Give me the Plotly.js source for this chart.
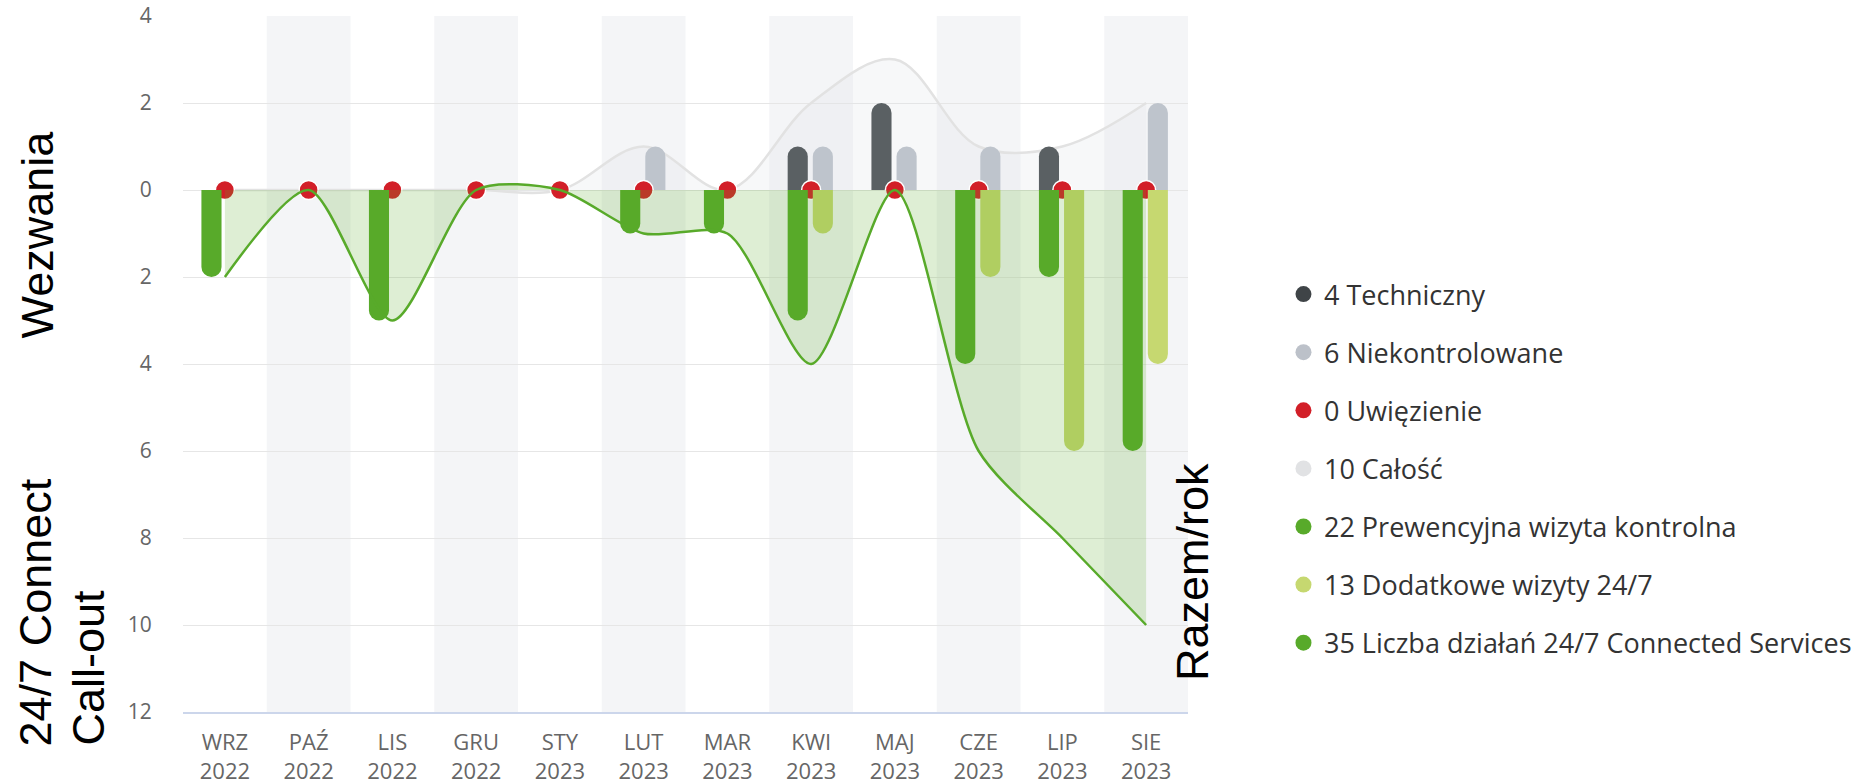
<!DOCTYPE html>
<html><head><meta charset="utf-8">
<script src="https://cdn.plot.ly/plotly-3.0.1.min.js"></script>
<style>html,body{margin:0;padding:0;background:#fff;} #chart{width:1874px;height:784px;}</style>
</head><body><div id="chart"></div>
<script>
// ---- data ----
const months = ['WRZ','PAŹ','LIS','GRU','STY','LUT','MAR','KWI','MAJ','CZE','LIP','SIE'];
const years  = ['2022','2022','2022','2022','2023','2023','2023','2023','2023','2023','2023','2023'];
const techniczny      = [0,0,0,0,0,0,0,1,2,0,1,0];
const niekontrolowane = [0,0,0,0,0,1,0,1,1,1,0,2];
const uwiezienie      = [0,0,0,0,0,0,0,0,0,0,0,0];
const calosc          = [0,0,0,0,0,1,0,2,3,1,1,2];
const prewencyjna     = [2,0,3,0,0,1,1,3,0,4,2,6];
const dodatkowe       = [0,0,0,0,0,0,0,1,0,2,6,4];
const liczba          = [2,0,3,0,0,1,1,4,0,6,8,10];
const seriesNames = ['Techniczny','Niekontrolowane','Uwięzienie','Całość','Prewencyjna wizyta kontrolna','Dodatkowe wizyty 24/7','Liczba działań 24/7 Connected Services'];
const yTickVals = [4,2,0,-2,-4,-6,-8,-10,-12];

// ---- styling ----
const colors = {
  tech:'#5a6063', techLeg:'#3f4447',
  niek:'#bec4cc', niekLeg:'#bcc1c9',
  uwi:'#d21f28',
  cal:'#e2e2e2', calLeg:'#e1e2e4',
  prew:'#58aa2a', dod:'#c6d870', licz:'#58aa2a'
};
const cats = months.map((m,i)=>m+'<br>'+years[i]);
const neg = a => a.map(v=>-v);
const sum = a => a.reduce((s,v)=>s+v,0);
const LEFT = -0.28, RIGHT = 0.02, BW = 0.24;

function bar(y, color, offset, yaxis){
  return {type:'bar', x:cats, y:y, offset:offset, width:BW, yaxis:yaxis, xaxis:'x',
    marker:{color:color, cornerradius:'50%', line:{width:0}}, showlegend:false, hoverinfo:'skip'};
}

// layer order (bottom -> top): y: Całość area, y2: gray bars, y3: dots, y4: green bars, y5: green area
const traces = [
  {type:'scatter', mode:'lines', x:cats, y:calosc, xaxis:'x', yaxis:'y', showlegend:false, hoverinfo:'skip',
   line:{shape:'spline', smoothing:1, color:colors.cal, width:2.5}, fill:'tozeroy', fillcolor:'rgba(225,228,230,0.25)'},
  bar(techniczny, colors.tech, LEFT, 'y2'),
  bar(niekontrolowane, colors.niek, RIGHT, 'y2'),
  {type:'scatter', mode:'markers', x:cats, y:uwiezienie, xaxis:'x', yaxis:'y3', showlegend:false, hoverinfo:'skip',
   marker:{size:19, color:colors.uwi, line:{color:'#fff', width:1.5}}},
  bar(neg(prewencyjna), colors.prew, LEFT, 'y4'),
  bar(neg(dodatkowe), colors.dod, RIGHT, 'y4'),
  {type:'scatter', mode:'lines', x:cats, y:neg(liczba), xaxis:'x', yaxis:'y5', showlegend:false, hoverinfo:'skip',
   line:{shape:'spline', smoothing:0.75, color:colors.licz, width:2.5}, fill:'tozeroy', fillcolor:'rgba(88,170,42,0.2)'}
];

// legend entries (circle symbols)
const legendData = [techniczny, niekontrolowane, uwiezienie, calosc, prewencyjna, dodatkowe, liczba];
const legendColors = [colors.techLeg, colors.niekLeg, colors.uwi, colors.calLeg, colors.prew, colors.dod, colors.licz];
legendData.forEach((d,i)=>{
  traces.push({type:'scatter', mode:'markers', x:[null], y:[null], xaxis:'x', yaxis:'y',
    name: sum(d)+' '+seriesNames[i], legendgroup:'g'+i, showlegend:true,
    marker:{size:16, color:legendColors[i], symbol:'circle'}});
});

// alternating bands
const shapes = [];
months.forEach((m,i)=>{
  if(i%2===1) shapes.push({type:'rect', xref:'x', yref:'paper', x0:i-0.5, x1:i+0.5, y0:0, y1:1,
    fillcolor:'#f4f5f7', line:{width:0}, layer:'below'});
});

const yRange = [-12,4];
const hiddenY = () => ({overlaying:'y', range:yRange, visible:false, fixedrange:true});
const titleFont = {family:'Liberation Sans, Arial, sans-serif', size:45, color:'#000'};

const layout = {
  width:1874, height:784,
  margin:{l:183, r:686, t:16, b:72},
  paper_bgcolor:'#fff', plot_bgcolor:'#fff',
  barmode:'overlay',
  showlegend:true,
  xaxis:{type:'category', range:[-0.5,11.5], showgrid:false, zeroline:false,
    showline:true, linecolor:'#ccd6eb', linewidth:2,
    ticks:'outside', ticklen:10, tickcolor:'rgba(0,0,0,0)',
    tickfont:{family:'Open Sans, sans-serif', size:22, color:'#666'}},
  yaxis:{range:yRange, tickvals:yTickVals, ticktext:yTickVals.map(v=>String(Math.abs(v))),
    showgrid:true, gridcolor:'#e6e6e6', gridwidth:1, zeroline:false, showline:false,
    ticks:'outside', ticklen:26, tickcolor:'rgba(0,0,0,0)',
    tickfont:{family:'Open Sans, sans-serif', size:21, color:'#666'}, fixedrange:true},
  yaxis2:hiddenY(), yaxis3:hiddenY(), yaxis4:hiddenY(), yaxis5:hiddenY(),
  legend:{x:1.0945, xanchor:'left', y:0.635, yanchor:'top', bgcolor:'rgba(0,0,0,0)',
    font:{family:'Open Sans, sans-serif', size:27, color:'#333'},
    traceorder:'grouped', tracegroupgap:20, itemwidth:31},
  shapes:shapes,
  annotations:[
    {text:'Wezwania', xref:'paper', yref:'paper', x:-0.1438, y:0.6868, xanchor:'center', yanchor:'middle',
     textangle:-90, showarrow:false, font:titleFont},
    {text:'24/7 Connect', xref:'paper', yref:'paper', x:-0.1458, y:-0.0517, xanchor:'center', yanchor:'bottom',
     textangle:-90, showarrow:false, font:titleFont},
    {text:'Call-out', xref:'paper', yref:'paper', x:-0.094, y:-0.0517, xanchor:'center', yanchor:'bottom',
     textangle:-90, showarrow:false, font:titleFont},
    {text:'Razem/rok', xref:'paper', yref:'paper', x:1.005, y:0.0417, xanchor:'center', yanchor:'bottom',
     textangle:-90, showarrow:false, font:titleFont}
  ]
};

Plotly.newPlot('chart', traces, layout, {staticPlot:true, displayModeBar:false});
</script>
</body></html>
